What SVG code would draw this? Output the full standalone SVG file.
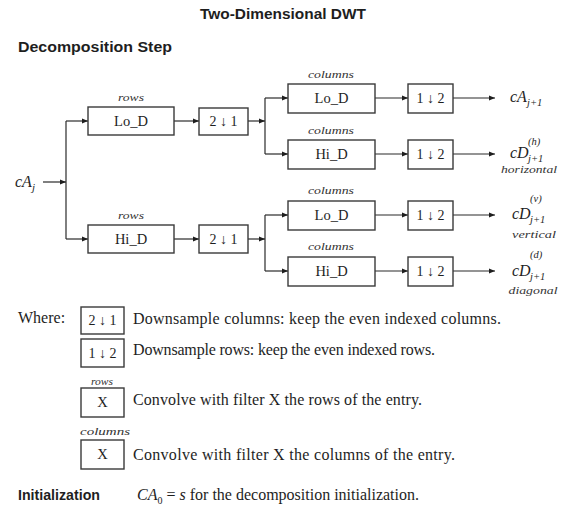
<svg xmlns="http://www.w3.org/2000/svg" width="567" height="506" viewBox="0 0 567 506">
<style>
.bg{fill:#fff}
.box{fill:#fff;stroke:#3a3a3a;stroke-width:1.4}
.conn{fill:none;stroke:#2a2a2a;stroke-width:1.2}
.h{font-family:"Liberation Sans",Arial,sans-serif;font-weight:bold;fill:#1e1e1e}
.s{font-family:"Liberation Serif","Times New Roman",serif;fill:#1e1e1e}
.lbl{font-size:14.5px;text-anchor:middle}
.op{font-size:14px;text-anchor:middle}
.ar{font-weight:bold}
.tag{font-size:9.5px;font-style:italic;text-anchor:middle;fill:#333}
.it{font-style:italic}
.body{font-size:16px}
</style>
<defs>
<marker id="ah" markerWidth="7" markerHeight="6" refX="6" refY="3" orient="auto" markerUnits="userSpaceOnUse">
<path d="M0,0.6 L6,3 L0,5.4 z" fill="#1e1e1e"/>
</marker>
</defs>
<rect class="bg" x="0" y="0" width="567" height="506"/>

<g id="titles">
<text class="h" x="200" y="19" font-size="15" textLength="166" lengthAdjust="spacingAndGlyphs">Two-Dimensional DWT</text>
<text class="h" x="18" y="52" font-size="14" textLength="154" lengthAdjust="spacingAndGlyphs">Decomposition Step</text>
</g>

<g id="connectors">
<path class="conn" d="M43,182 H66" marker-end="url(#ah)"/>
<path class="conn" d="M66,121 V239"/>
<path class="conn" d="M66,121 H88" marker-end="url(#ah)"/>
<path class="conn" d="M66,239 H88" marker-end="url(#ah)"/>
<path class="conn" d="M174,121 H199" marker-end="url(#ah)"/>
<path class="conn" d="M174,239 H199" marker-end="url(#ah)"/>
<path class="conn" d="M248,121 H265" marker-end="url(#ah)"/>
<path class="conn" d="M248,239 H265" marker-end="url(#ah)"/>
<path class="conn" d="M265,98 V154"/>
<path class="conn" d="M265,98 H288" marker-end="url(#ah)"/>
<path class="conn" d="M265,154 H288" marker-end="url(#ah)"/>
<path class="conn" d="M265,215 V271"/>
<path class="conn" d="M265,215 H288" marker-end="url(#ah)"/>
<path class="conn" d="M265,271 H288" marker-end="url(#ah)"/>
<path class="conn" d="M375,98 H408" marker-end="url(#ah)"/>
<path class="conn" d="M375,154 H408" marker-end="url(#ah)"/>
<path class="conn" d="M375,215 H408" marker-end="url(#ah)"/>
<path class="conn" d="M375,271 H408" marker-end="url(#ah)"/>
<path class="conn" d="M453,98 H495" marker-end="url(#ah)"/>
<path class="conn" d="M453,154 H495" marker-end="url(#ah)"/>
<path class="conn" d="M453,215 H495" marker-end="url(#ah)"/>
<path class="conn" d="M453,271 H495" marker-end="url(#ah)"/>
</g>

<g id="input-cAj">
<text class="s it" x="15" y="187" font-size="16">cA</text>
<text class="s it" x="32" y="191" font-size="11">j</text>
</g>

<g id="rows-LoD">
<text class="s tag" x="131" y="101" textLength="26" lengthAdjust="spacingAndGlyphs">rows</text>
<rect class="box" x="88" y="107" width="86" height="28"/>
<text class="s lbl" x="131" y="126">Lo_D</text>
</g>
<g id="down-cols-1">
<rect class="box" x="199" y="108" width="49" height="27"/>
<text class="s op" x="223.5" y="126">2 <tspan class="ar">↓</tspan> 1</text>
</g>
<g id="rows-HiD">
<text class="s tag" x="131" y="219" textLength="26" lengthAdjust="spacingAndGlyphs">rows</text>
<rect class="box" x="88" y="225" width="86" height="28"/>
<text class="s lbl" x="131" y="244">Hi_D</text>
</g>
<g id="down-cols-2">
<rect class="box" x="199" y="225" width="49" height="28"/>
<text class="s op" x="223.5" y="244">2 <tspan class="ar">↓</tspan> 1</text>
</g>

<g id="cols-LoD-1">
<text class="s tag" x="331" y="78" textLength="46" lengthAdjust="spacingAndGlyphs">columns</text>
<rect class="box" x="288" y="84" width="87" height="29"/>
<text class="s lbl" x="331.5" y="103">Lo_D</text>
</g>
<g id="cols-HiD-1">
<text class="s tag" x="331" y="134" textLength="46" lengthAdjust="spacingAndGlyphs">columns</text>
<rect class="box" x="288" y="140" width="87" height="29"/>
<text class="s lbl" x="331.5" y="159">Hi_D</text>
</g>
<g id="cols-LoD-2">
<text class="s tag" x="331" y="194" textLength="46" lengthAdjust="spacingAndGlyphs">columns</text>
<rect class="box" x="288" y="201" width="87" height="29"/>
<text class="s lbl" x="331.5" y="220">Lo_D</text>
</g>
<g id="cols-HiD-2">
<text class="s tag" x="331" y="250" textLength="46" lengthAdjust="spacingAndGlyphs">columns</text>
<rect class="box" x="288" y="257" width="87" height="29"/>
<text class="s lbl" x="331.5" y="276">Hi_D</text>
</g>

<g id="down-rows-1">
<rect class="box" x="408" y="84" width="45" height="29"/>
<text class="s op" x="430.5" y="103">1 <tspan class="ar">↓</tspan> 2</text>
</g>
<g id="down-rows-2">
<rect class="box" x="408" y="140" width="45" height="29"/>
<text class="s op" x="430.5" y="159">1 <tspan class="ar">↓</tspan> 2</text>
</g>
<g id="down-rows-3">
<rect class="box" x="408" y="201" width="45" height="29"/>
<text class="s op" x="430.5" y="220">1 <tspan class="ar">↓</tspan> 2</text>
</g>
<g id="down-rows-4">
<rect class="box" x="408" y="257" width="45" height="29"/>
<text class="s op" x="430.5" y="276">1 <tspan class="ar">↓</tspan> 2</text>
</g>

<g id="out-cA">
<text class="s it" x="510" y="102" font-size="16">cA</text>
<text class="s it" x="527" y="106" font-size="10.5">j+1</text>
</g>
<g id="out-cDh">
<text class="s it" x="510" y="158" font-size="16">cD</text>
<text class="s it" x="528" y="145" font-size="10.5">(h)</text>
<text class="s it" x="528" y="162" font-size="10.5">j+1</text>
<text class="s tag" x="529" y="173" textLength="56" lengthAdjust="spacingAndGlyphs">horizontal</text>
</g>
<g id="out-cDv">
<text class="s it" x="512" y="219" font-size="16">cD</text>
<text class="s it" x="530" y="202" font-size="10.5">(v)</text>
<text class="s it" x="530" y="223" font-size="10.5">j+1</text>
<text class="s tag" x="534" y="238" textLength="44" lengthAdjust="spacingAndGlyphs">vertical</text>
</g>
<g id="out-cDd">
<text class="s it" x="512" y="276" font-size="16">cD</text>
<text class="s it" x="530" y="258" font-size="10.5">(d)</text>
<text class="s it" x="530" y="280" font-size="10.5">j+1</text>
<text class="s tag" x="533" y="294" textLength="49" lengthAdjust="spacingAndGlyphs">diagonal</text>
</g>

<g id="legend">
<text class="s body" x="18" y="323">Where:</text>
<g id="legend-down-cols">
<rect class="box" x="81" y="307" width="43" height="27"/>
<text class="s op" x="102.5" y="325">2 <tspan class="ar">↓</tspan> 1</text>
<text class="s body" x="133" y="324" textLength="368">Downsample columns: keep the even indexed columns.</text>
</g>
<g id="legend-down-rows">
<rect class="box" x="81" y="339" width="43" height="28"/>
<text class="s op" x="102.5" y="358">1 <tspan class="ar">↓</tspan> 2</text>
<text class="s body" x="133" y="355" textLength="302">Downsample rows: keep the even indexed rows.</text>
</g>
<g id="legend-rows-filter">
<text class="s tag" x="102" y="385" textLength="22" lengthAdjust="spacingAndGlyphs">rows</text>
<rect class="box" x="81" y="388" width="43" height="29"/>
<text class="s lbl" x="102.5" y="407">X</text>
<text class="s body" x="133" y="405" textLength="289">Convolve with filter X the rows of the entry.</text>
</g>
<g id="legend-cols-filter">
<text class="s tag" x="105" y="435" textLength="50" lengthAdjust="spacingAndGlyphs">columns</text>
<rect class="box" x="81" y="440" width="43" height="29"/>
<text class="s lbl" x="102.5" y="459">X</text>
<text class="s body" x="133" y="460" textLength="322">Convolve with filter X the columns of the entry.</text>
</g>
</g>

<g id="initialization">
<text class="h" x="18" y="500" font-size="14" textLength="82" lengthAdjust="spacingAndGlyphs">Initialization</text>
<text class="s body" x="137" y="500"><tspan class="it">CA</tspan><tspan font-size="10" dy="4">0</tspan><tspan dy="-4"> = </tspan><tspan class="it">s</tspan> for the decomposition initialization.</text>
</g>
</svg>
